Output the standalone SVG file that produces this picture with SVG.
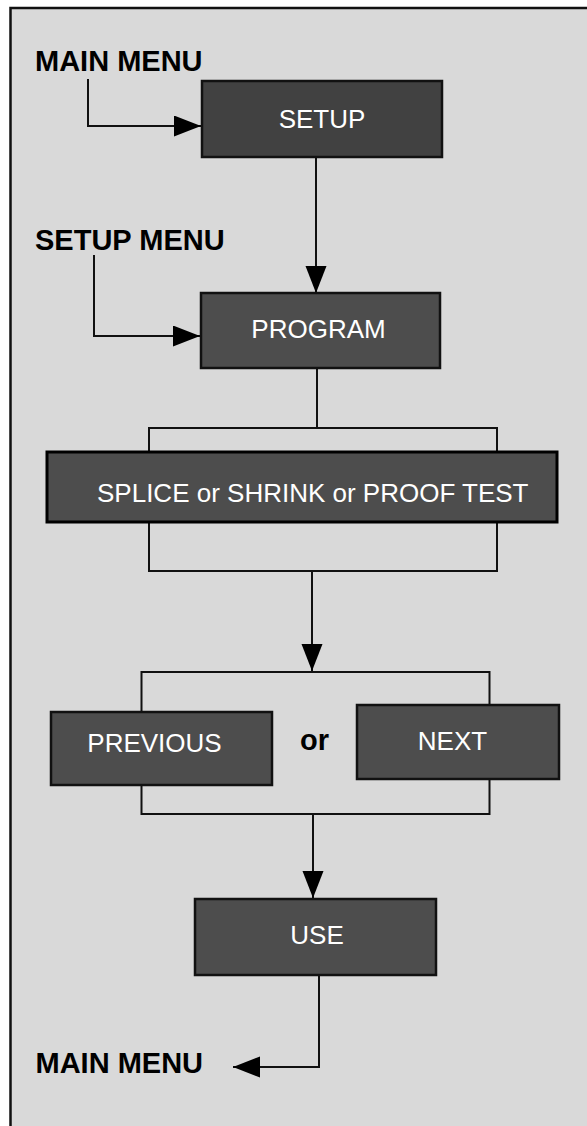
<svg xmlns="http://www.w3.org/2000/svg" width="587" height="1126" viewBox="0 0 587 1126">
<style>
.box{stroke:#111;stroke-width:2.5}
.lbl{font-family:"Liberation Sans",Arial,sans-serif;font-size:26px;fill:#fff}
.side{font-family:"Liberation Sans",Arial,sans-serif;font-size:29px;font-weight:bold;fill:#000}
.conn{fill:none;stroke:#111;stroke-width:2}
</style>
<defs>
<marker id="arr" markerUnits="userSpaceOnUse" markerWidth="28" markerHeight="22" refX="27" refY="10.5" orient="auto">
<path d="M0,0 L27,10.5 L0,21 z" fill="#000"/>
</marker>
</defs>
<rect x="0" y="0" width="587" height="1126" fill="#fff"/>
<rect x="10.5" y="8" width="600" height="1200" fill="#d9d9d9" stroke="#111" stroke-width="2.5"/>
<g id="connectors">
<path class="conn" d="M88,79 V126 H201" marker-end="url(#arr)"/>
<path class="conn" d="M316,157 V293" marker-end="url(#arr)"/>
<path class="conn" d="M94,255 V336 H200" marker-end="url(#arr)"/>
<path class="conn" d="M317,368 V428"/>
<rect class="conn" x="149" y="428" width="348" height="143"/>
<path class="conn" d="M312,571 V671" marker-end="url(#arr)"/>
<rect class="conn" x="141.5" y="672" width="348" height="142"/>
<path class="conn" d="M313,814 V898" marker-end="url(#arr)"/>
<path class="conn" d="M319,975 V1067 H233" marker-end="url(#arr)"/>
</g>
<g id="main-menu-top"><text class="side" x="35" y="71">MAIN MENU</text></g>
<g id="setup-menu"><text class="side" x="35" y="250">SETUP MENU</text></g>
<g id="setup"><rect class="box" x="202" y="81" width="240" height="76" fill="#414141"/><text class="lbl" x="322" y="128" text-anchor="middle">SETUP</text></g>
<g id="program"><rect class="box" x="201" y="293" width="239" height="75" fill="#4d4d4d"/><text class="lbl" x="318.5" y="338" text-anchor="middle">PROGRAM</text></g>
<g id="splice"><rect x="47" y="452" width="510" height="70" fill="#4d4d4d" stroke="#000" stroke-width="3"/><text class="lbl" x="97" y="502">SPLICE or SHRINK or PROOF TEST</text></g>
<g id="previous"><rect class="box" x="51" y="712" width="221" height="73" fill="#4d4d4d"/><text class="lbl" x="154.5" y="752" text-anchor="middle">PREVIOUS</text></g>
<g id="or"><text class="side" x="314.5" y="750" text-anchor="middle">or</text></g>
<g id="next"><rect class="box" x="357" y="705" width="202" height="74" fill="#4d4d4d"/><text class="lbl" x="452.5" y="750" text-anchor="middle">NEXT</text></g>
<g id="use"><rect class="box" x="195" y="899" width="241" height="76" fill="#4d4d4d"/><text class="lbl" x="317" y="944" text-anchor="middle">USE</text></g>
<g id="main-menu-bottom"><text class="side" x="35.5" y="1073">MAIN MENU</text></g>
</svg>
